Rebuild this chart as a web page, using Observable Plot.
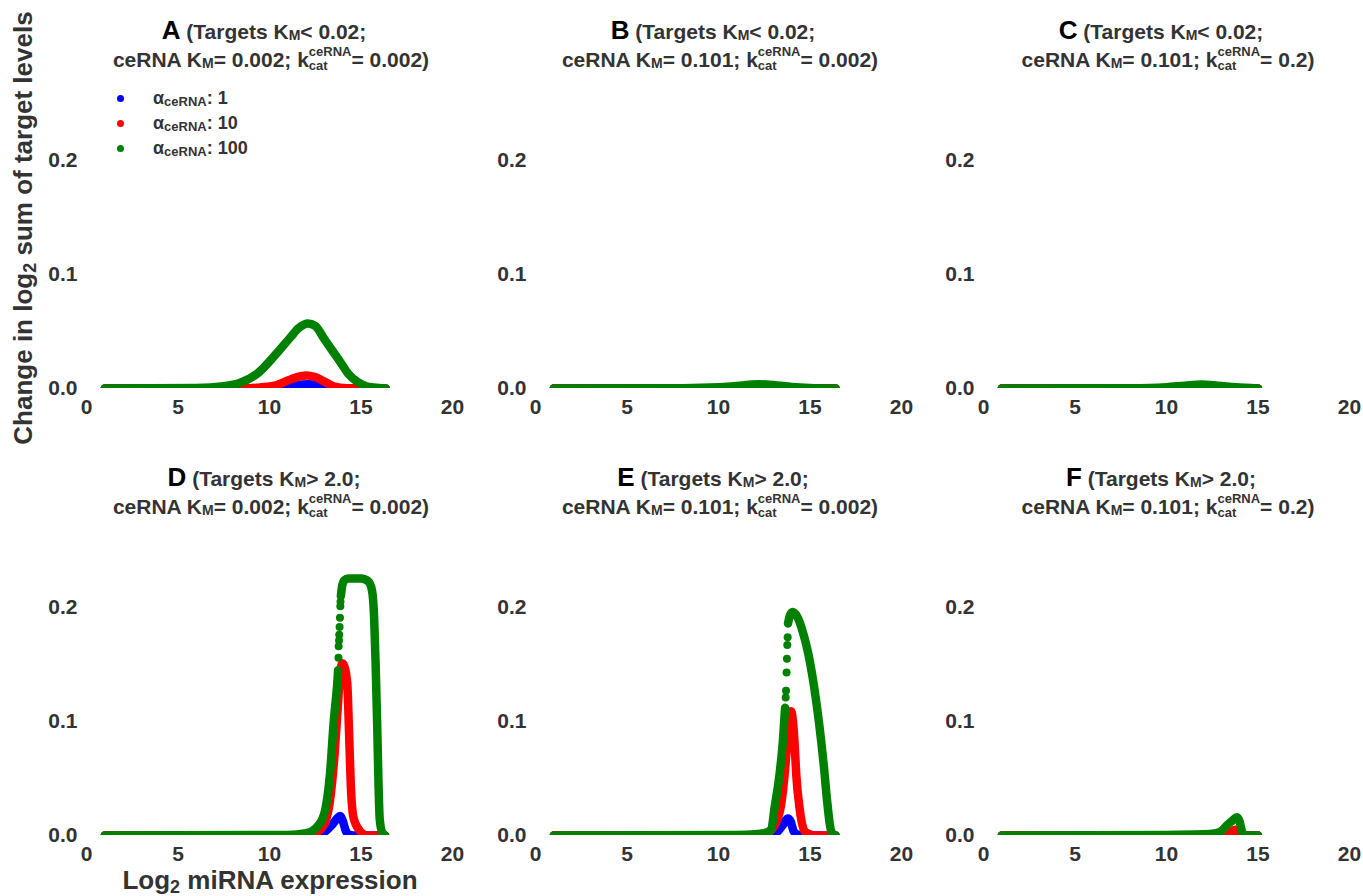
<!DOCTYPE html>
<html><head><meta charset="utf-8">
<script src="https://cdn.jsdelivr.net/npm/d3@7"></script>
<script src="https://cdn.jsdelivr.net/npm/@observablehq/plot@0.6"></script>
<style>
body{margin:0;background:#fff;}
#root{position:relative;width:1363px;height:896px;overflow:hidden;font-family:"Liberation Sans",Arial,sans-serif;font-weight:bold;color:#333;}
.tl{position:absolute;width:560px;text-align:center;white-space:nowrap;font-size:21px;height:28px;line-height:28px;}
.let{font-size:26px;color:#000;}
.sb{font-size:14px;vertical-align:-1px;}
.ss{display:inline-block;vertical-align:-3px;font-size:13px;text-align:left;}
.ss .sup{display:block;line-height:14px;height:14px;}
.ss .sub{display:block;line-height:13px;height:13px;}
.leg{position:absolute;font-size:18px;white-space:nowrap;height:20px;line-height:20px;}
.leg .d{position:absolute;width:7px;height:7px;border-radius:50%;left:-36px;top:7px;}
.leg .s{font-size:13px;vertical-align:-2px;}
.axl{position:absolute;font-size:26px;white-space:nowrap;text-align:center;}
</style></head>
<body><div id="root"></div>
<script>
// ---------- data ----------
const panelLetters = ["A", "B", "C", "D", "E", "F"];
const targetsKm = ["< 0.02", "< 0.02", "< 0.02", "> 2.0", "> 2.0", "> 2.0"];
const ceRNAKm = ["0.002", "0.101", "0.101", "0.002", "0.101", "0.101"];
const kcat = ["0.002", "0.002", "0.2", "0.002", "0.002", "0.2"];
const alphaLabels = ["1", "10", "100"];
const seriesColors = ["#0000ff", "#ff0000", "#008000"];
const xTicks = [0, 5, 10, 15, 20];
const yTicks = [0, 0.1, 0.2];
const xLabel = "miRNA expression";
const yLabelA = "Change in log";
const yLabelB = " sum of target levels";

// [log2 miRNA, change] pairs
const A_blue = [[1,0],[10.5,0],[11,0.0015],[11.5,0.003],[12.1,0.0038],[12.7,0.003],[13.2,0.0015],[13.6,0],[16.35,0]];
const A_red = [[1,0],[8.5,0],[9.5,0.001],[10.4,0.003],[11,0.007],[11.5,0.010],[12,0.0115],[12.5,0.010],[13,0.006],[13.5,0.002],[14.2,0.0003],[16.35,0]];
const A_green = [[1,0],[6,0.0005],[7.5,0.002],[8.4,0.005],[9.33,0.013],[10.4,0.031],[11.15,0.045],[11.6,0.053],[12.1,0.057],[12.5,0.055],[12.97,0.044],[13.4,0.034],[13.88,0.023],[14.3,0.013],[14.8,0.006],[15.3,0.002],[15.7,0.001],[16.35,0]];

const B_blue = [[1,0],[16.4,0]];
const B_red = [[1,0],[11.3,0],[12.2,0.0013],[13,0.0002],[13.5,0],[16.4,0]];
const B_green = [[1,0],[8,0.0003],[10,0.001],[11,0.0022],[12.2,0.0037],[13,0.003],[14,0.0013],[15,0.0004],[16.4,0]];

const C_blue = [[1,0],[15,0]];
const C_red = [[1,0],[11,0],[11.9,0.0008],[12.8,0],[15,0]];
const C_green = [[1,0],[8,0.0003],[10,0.0012],[11,0.0025],[11.9,0.0035],[12.8,0.0025],[13.8,0.001],[15,0]];

const D_blue = [[1,0],[12.6,0],[13,0.003],[13.4,0.009],[13.7,0.015],[13.85,0.017],[14.0,0.013],[14.15,0.005],[14.3,0.001],[14.6,0],[16.3,0]];
const D_red = [[1,0],[12,0],[12.5,0.002],[13,0.01],[13.3,0.03],[13.55,0.07],[13.72,0.11],[13.85,0.14],[13.97,0.151],[14.1,0.148],[14.25,0.133],[14.35,0.089],[14.44,0.045],[14.6,0.015],[15.0,0.003],[15.3,0],[16.3,0]];
const D_green = [[1,0],[11,0.0005],[12,0.002],[12.5,0.006],[12.97,0.018],[13.33,0.059],[13.5,0.098],[13.7,0.133],[13.75,0.145],[13.8,NaN],[13.9,0.21],[13.97,0.219],[14.1,0.224],[14.3,0.2255],[15.0,0.2255],[15.4,0.223],[15.6,0.215],[15.72,0.19],[15.8,0.15],[15.88,0.1],[15.95,0.05],[16.02,0.015],[16.15,0.003],[16.33,0]];
const D_green_sparse = [[13.77,0.156],[13.78,0.166],[13.8,0.171],[13.81,0.176],[13.83,0.183],[13.85,0.191],[13.87,0.201],[13.88,0.205]];

const E_blue = [[1,0],[12.8,0],[13.2,0.003],[13.55,0.01],[13.79,0.015],[13.95,0.012],[14.1,0.004],[14.3,0.001],[14.6,0],[16.4,0]];
const E_red = [[1,0],[12,0],[12.5,0.001],[13,0.007],[13.4,0.025],[13.65,0.06],[13.82,0.095],[13.97,0.109],[14.07,0.1],[14.15,0.083],[14.25,0.053],[14.43,0.024],[14.7,0.004],[15.0,0.001],[15.25,0],[16.4,0]];
const E_green = [[1,0],[11,0.0005],[12,0.001],[12.5,0.002],[12.88,0.005],[13.06,0.024],[13.33,0.053],[13.52,0.083],[13.64,0.112],[13.7,NaN],[13.8,0.186],[13.9,0.193],[14.05,0.196],[14.3,0.192],[14.6,0.179],[14.9,0.16],[15.2,0.133],[15.5,0.098],[15.75,0.062],[15.95,0.028],[16.1,0.008],[16.25,0.001],[16.4,0]];
const E_green_sparse = [[13.67,0.121],[13.69,0.127],[13.72,0.143],[13.74,0.155],[13.76,0.167],[13.78,0.174]];

const F_blue = [[1,0],[15,0]];
const F_red = [[1,0],[13.0,0],[13.4,0.002],[13.75,0.005],[13.9,0.003],[14.0,0],[15,0]];
const F_green = [[1,0],[10,0.0005],[12,0.001],[12.7,0.002],[13.0,0.004],[13.3,0.009],[13.6,0.013],[13.85,0.016],[14.0,0.012],[14.1,0.005],[14.2,0.001],[14.5,0],[15,0]];

const panelSeries = [
  [A_blue, A_red, A_green, []],
  [B_blue, B_red, B_green, []],
  [C_blue, C_red, C_green, []],
  [D_blue, D_red, D_green, D_green_sparse],
  [E_blue, E_red, E_green, E_green_sparse],
  [F_blue, F_red, F_green, []]
];

// ---------- layout ----------
const root = document.getElementById("root");
const svgLeft = [40, 489, 937];
const svgTop = [100, 547];
const W = 430, H = 320, ML = 46, MR = 18, MT = 14.4, MB = 32;

function makePanel(i) {
  const [blue, red, green, sparse] = panelSeries[i];
  const lineOpts = {strokeWidth: 8.5, curve: "monotone-x", strokeLinecap: "round", strokeLinejoin: "round", clip: true};
  return Plot.plot({
    width: W, height: H,
    marginLeft: ML, marginRight: MR, marginTop: MT, marginBottom: MB,
    style: {fontFamily: '"Liberation Sans", Arial, sans-serif', fontSize: "21px", fontWeight: "bold", color: "#333", background: "transparent", overflow: "visible"},
    x: {domain: [0, 20], ticks: xTicks, tickSize: 0, tickPadding: 11, label: null},
    y: {domain: [0, 0.24], ticks: yTicks, tickSize: 0, tickPadding: 9, label: null, tickFormat: ".1f"},
    marks: [
      Plot.line(blue, {...lineOpts, stroke: seriesColors[0]}),
      Plot.line(red, {...lineOpts, stroke: seriesColors[1]}),
      Plot.line(green, {...lineOpts, stroke: seriesColors[2]}),
      Plot.dot(sparse, {r: 4, fill: seriesColors[2]})
    ]
  });
}

for (let i = 0; i < 6; i++) {
  const col = i % 3, row = Math.floor(i / 3);
  const svg = makePanel(i);
  svg.style.position = "absolute";
  svg.style.left = svgLeft[col] + "px";
  svg.style.top = svgTop[row] + "px";
  root.appendChild(svg);

  const cx = svgLeft[col] + ML + (W - ML - MR) / 2;
  const t1 = document.createElement("div");
  t1.className = "tl";
  t1.style.left = (cx - 280 - 5) + "px";
  t1.style.top = (row * 447 + 30 - 14) + "px";
  t1.innerHTML = `<span class="let">${panelLetters[i]}</span> (Targets K<span class="sb">M</span>${targetsKm[i]};`;
  root.appendChild(t1);

  const t2 = document.createElement("div");
  t2.className = "tl";
  t2.style.left = (cx - 280 + 2) + "px";
  t2.style.top = (row * 447 + 59 - 14) + "px";
  t2.innerHTML = `ceRNA K<span class="sb">M</span>= ${ceRNAKm[i]}; k<span class="ss"><span class="sup">ceRNA</span><span class="sub">cat</span></span>= ${kcat[i]})`;
  root.appendChild(t2);
}

// legend in panel A
alphaLabels.forEach((lab, k) => {
  const el = document.createElement("div");
  el.className = "leg";
  el.style.left = "153px";
  el.style.top = (98 + 25 * k - 10) + "px";
  el.innerHTML = `<span class="d" style="background:${seriesColors[k]}"></span>α<span class="s">ceRNA</span>: ${lab}`;
  root.appendChild(el);
});

// axis titles
const yl = document.createElement("div");
yl.className = "axl";
yl.style.width = "480px";
yl.style.left = (23 - 240) + "px";
yl.style.top = (228 - 15) + "px";
yl.style.height = "30px";
yl.style.lineHeight = "30px";
yl.style.transform = "rotate(-90deg)";
yl.innerHTML = `${yLabelA}<span style="font-size:18px;vertical-align:-4px">2</span>${yLabelB}`;
root.appendChild(yl);

const xl = document.createElement("div");
xl.className = "axl";
xl.style.width = "400px";
xl.style.left = (270 - 200) + "px";
xl.style.top = (880 - 15) + "px";
xl.style.height = "30px";
xl.style.lineHeight = "30px";
xl.innerHTML = `Log<span style="font-size:18px;vertical-align:-4px">2</span> ${xLabel}`;
root.appendChild(xl);
</script>
</body></html>
